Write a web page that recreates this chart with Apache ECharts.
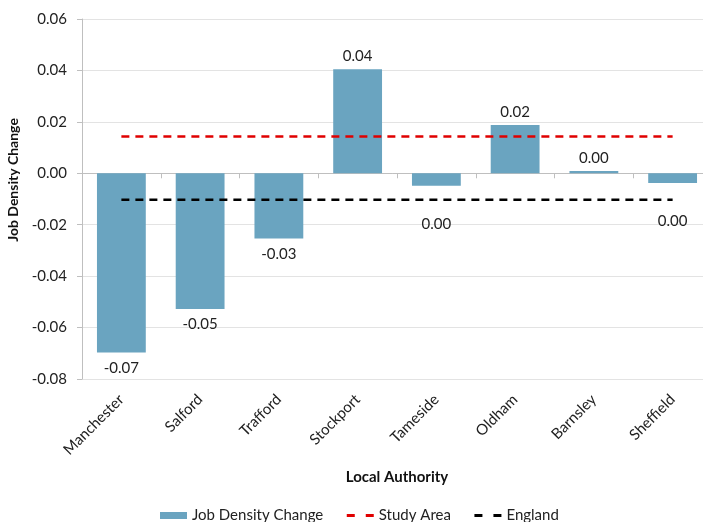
<!DOCTYPE html>
<html>
<head>
<meta charset="utf-8">
<script src="https://cdn.jsdelivr.net/npm/echarts@6/dist/echarts.min.js"></script>
<style>html,body{margin:0;padding:0;background:#fff}#c{width:703px;height:522px}</style>
</head>
<body>
<div id="c"></div>
<script>
const categories = ['Manchester','Salford','Trafford','Stockport','Tameside','Oldham','Barnsley','Sheffield'];
const jobDensityChange = [-0.0697, -0.0528, -0.0254, 0.0405, -0.0048, 0.0188, 0.0009, -0.0038];
const studyArea = [0.0143, 0.0143, 0.0143, 0.0143, 0.0143, 0.0143, 0.0143, 0.0143];
const england = [-0.0103, -0.0103, -0.0103, -0.0103, -0.0103, -0.0103, -0.0103, -0.0103];
const labelShift = [0, 0, 0, 0, 23, 0, 0, 23];

const FONT = 'Lato';
const fmt = v => (Math.round(v * 100) / 100).toFixed(2);

const chart = echarts.init(document.getElementById('c'), null, {renderer: 'canvas'});
chart.setOption({
  animation: false,
  textStyle: {fontFamily: FONT},
  grid: {left: 82, right: -9, top: 19, bottom: 143, containLabel: false, outerBoundsMode: 'none'},
  legend: {
    bottom: -1, left: 160, padding: 0,
    itemWidth: 27, itemHeight: 7, itemGap: 22,
    textStyle: {fontFamily: FONT, fontSize: 15, color: '#222'},
    data: [
      {name: 'Job Density Change', icon: 'rect'},
      {name: 'Study Area', itemStyle: {opacity: 0}, lineStyle: {type: [8, 11], width: 3}},
      {name: 'England', itemStyle: {opacity: 0}, lineStyle: {type: [8, 11], width: 3}}
    ]
  },
  xAxis: {
    type: 'category',
    data: categories,
    name: 'Local Authority',
    nameLocation: 'middle',
    nameGap: 91,
    nameTextStyle: {fontFamily: FONT, fontSize: 15, fontWeight: 'bold', color: '#111'},
    axisLine: {onZero: true, lineStyle: {color: '#bfbfbf', width: 1}},
    axisTick: {show: true, length: 5, lineStyle: {color: '#bfbfbf'}},
    axisLabel: {rotate: 45, fontSize: 15, color: '#222', fontFamily: FONT, margin: 18, interval: 0},
    splitLine: {show: false}
  },
  yAxis: {
    type: 'value',
    min: -0.08, max: 0.06, interval: 0.02,
    name: 'Job Density Change',
    nameLocation: 'middle',
    nameGap: 62,
    nameRotate: 90,
    nameTextStyle: {fontFamily: FONT, fontSize: 14, fontWeight: 'bold', color: '#111', padding: [0, 0, 0, 38]},
    axisLine: {show: true, lineStyle: {color: '#bfbfbf', width: 1}},
    axisTick: {show: true, length: 5, lineStyle: {color: '#bfbfbf'}},
    axisLabel: {formatter: v => v.toFixed(2), fontSize: 15, color: '#222', fontFamily: FONT, margin: 15},
    splitLine: {show: true, lineStyle: {color: '#e3e3e3', width: 1}}
  },
  series: [
    {
      name: 'Job Density Change',
      type: 'bar',
      barWidth: '62%',
      itemStyle: {color: '#6aa4c0'},
      data: jobDensityChange.map((v, i) => ({
        value: v,
        label: {
          show: true,
          position: v < 0 ? 'bottom' : 'top',
          distance: v < 0 ? 8 : 5,
          offset: [0, labelShift[i]],
          formatter: p => fmt(p.value),
          fontSize: 15, color: '#222', fontFamily: FONT
        }
      })),
      z: 2
    },
    {
      name: 'Study Area',
      type: 'line',
      data: studyArea,
      symbol: 'none',
      lineStyle: {color: '#e00000', width: 2.5, type: [8, 6]},
      itemStyle: {color: '#e00000'},
      z: 3
    },
    {
      name: 'England',
      type: 'line',
      data: england,
      symbol: 'none',
      lineStyle: {color: '#000000', width: 2.5, type: [8, 6]},
      itemStyle: {color: '#000000'},
      z: 3
    }
  ]
});
</script>
</body>
</html>
